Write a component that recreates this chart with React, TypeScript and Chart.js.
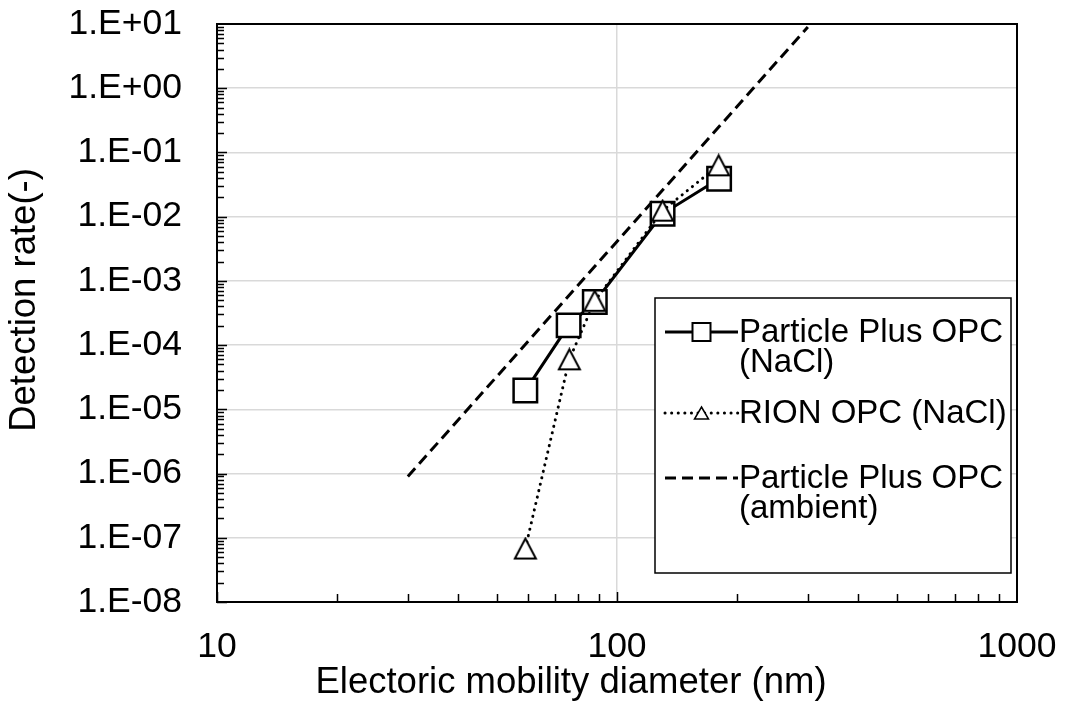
import React, { useEffect, useRef } from 'react';
import { Chart, registerables } from 'chart.js';

Chart.register(...registerables);

// ---- data ----
const ppDiameter = [59, 75.7, 88, 130, 180];
const ppRate = [1.96e-5, 2.03e-4, 4.7e-4, 1.11e-2, 3.9e-2];
const rionDiameter = [59, 76, 88, 130, 179.5];
const rionRate = [6.8e-8, 6.0e-5, 4.9e-4, 1.24e-2, 6.3e-2];
const ambientDiameter = [30, 300];
const ambientRate = [9e-7, 9];

const seriesNames = ['Particle Plus OPC (NaCl)', 'RION OPC (NaCl)', 'Particle Plus OPC (ambient)'];
const legendLines = [['Particle Plus OPC', '(NaCl)'], ['RION OPC (NaCl)'], ['Particle Plus OPC', '(ambient)']];

const xTickValues = [10, 100, 1000];
const xTickLabels = ['10', '100', '1000'];
const yTickValues = [1e-8, 1e-7, 1e-6, 1e-5, 1e-4, 1e-3, 1e-2, 1e-1, 1e0, 1e1];
const yTickLabels = ['1.E-08', '1.E-07', '1.E-06', '1.E-05', '1.E-04', '1.E-03', '1.E-02', '1.E-01', '1.E+00', '1.E+01'];

const xTitle = 'Electoric mobility diameter (nm)';
const yTitle = 'Detection rate(-)';

const FONT = "'Liberation Sans', Arial, Helvetica, sans-serif";

function toPoints(xs: number[], ys: number[]) {
  return xs.map((x, i) => ({ x, y: ys[i] }));
}

function makeTriangle(w: number, h: number, lw: number) {
  const c = document.createElement('canvas');
  const pad = Math.ceil(lw);
  c.width = w + pad * 2;
  c.height = h + pad * 2;
  const g = c.getContext('2d')!;
  g.fillStyle = '#fff';
  g.strokeStyle = '#000';
  g.lineWidth = lw;
  g.lineJoin = 'miter';
  g.beginPath();
  g.moveTo(pad + w / 2, pad);
  g.lineTo(pad + w, pad + h);
  g.lineTo(pad, pad + h);
  g.closePath();
  g.fill();
  g.stroke();
  return c;
}

const decorPlugin = {
  id: 'decor',
  afterDraw(chart: any) {
    const { ctx, chartArea: a, scales } = chart;
    const xs = scales.x;
    const ys = scales.y;
    ctx.save();
    ctx.strokeStyle = '#000';
    // inner tick marks (major + minor), pointing into the plot
    ctx.lineWidth = 1.5;
    ctx.beginPath();
    for (let e = -8; e <= 0; e++) {
      for (let m = 1; m <= 9; m++) {
        const py = Math.round(ys.getPixelForValue(m * Math.pow(10, e))) + 0.5;
        const len = m === 1 ? 10 : 7;
        ctx.moveTo(a.left, py);
        ctx.lineTo(a.left + len, py);
      }
    }
    const pyTop = ys.getPixelForValue(10);
    ctx.moveTo(a.left, pyTop);
    ctx.lineTo(a.left + 10, pyTop);
    for (let e = 1; e <= 2; e++) {
      for (let m = 1; m <= 9; m++) {
        const px = Math.round(xs.getPixelForValue(m * Math.pow(10, e))) + 0.5;
        const len = m === 1 ? 10 : 8;
        ctx.moveTo(px, a.bottom);
        ctx.lineTo(px, a.bottom - len);
      }
    }
    ctx.stroke();
    // plot frame
    ctx.lineWidth = 2;
    ctx.strokeRect(a.left, a.top, a.right - a.left, a.bottom - a.top);

    // axis titles
    ctx.fillStyle = '#000';
    ctx.font = `36.5px ${FONT}`;
    ctx.textAlign = 'center';
    ctx.textBaseline = 'middle';
    ctx.fillText(xTitle, (a.left + a.right) / 2 - 46, 683);
    ctx.save();
    ctx.translate(25, 300);
    ctx.rotate(-Math.PI / 2);
    ctx.fillText(yTitle, 0, 0);
    ctx.restore();

    // legend box
    const bw = 356;
    const bh = 275;
    const bx = a.right - 6 - bw;
    const by = a.bottom - 29 - bh;
    ctx.fillStyle = '#fff';
    ctx.fillRect(bx, by, bw, bh);
    ctx.lineWidth = 1.5;
    ctx.strokeRect(bx, by, bw, bh);

    const rowY = [by + 34, by + 115, by + 180];
    const lineX0 = bx + 10;
    const lineX1 = bx + 83;
    const textX = bx + 84;
    chart.data.datasets.forEach((ds: any, i: number) => {
      const yy = rowY[i];
      ctx.save();
      ctx.strokeStyle = ds.borderColor;
      ctx.lineWidth = ds.borderWidth;
      ctx.setLineDash(ds.borderDash || []);
      ctx.lineCap = ds.borderCapStyle || 'butt';
      ctx.beginPath();
      ctx.moveTo(lineX0, yy);
      ctx.lineTo(lineX1, yy);
      ctx.stroke();
      ctx.restore();
      const cx = (lineX0 + lineX1) / 2;
      if (ds.pointStyle === 'rect' && ds.pointRadius > 0) {
        ctx.save();
        ctx.fillStyle = '#fff';
        ctx.strokeStyle = '#000';
        ctx.lineWidth = 2;
        ctx.fillRect(cx - 9, yy - 9, 18, 18);
        ctx.strokeRect(cx - 9, yy - 9, 18, 18);
        ctx.restore();
      } else if (ds.pointStyle && typeof ds.pointStyle !== 'string' && ds.pointRadius > 0) {
        ctx.save();
        ctx.fillStyle = '#fff';
        ctx.strokeStyle = '#000';
        ctx.lineWidth = 1.5;
        ctx.beginPath();
        ctx.moveTo(cx, yy - 6);
        ctx.lineTo(cx + 7, yy + 6);
        ctx.lineTo(cx - 7, yy + 6);
        ctx.closePath();
        ctx.fill();
        ctx.stroke();
        ctx.restore();
      }
      ctx.fillStyle = '#000';
      ctx.font = `33px ${FONT}`;
      ctx.textAlign = 'left';
      ctx.textBaseline = 'middle';
      legendLines[i].forEach((t, k) => {
        ctx.fillText(t, textX, yy + k * 30 + 1);
      });
    });
    ctx.restore();
  },
};

export default function App() {
  const ref = useRef<HTMLCanvasElement | null>(null);
  useEffect(() => {
    if (!ref.current) return;
    const tri = makeTriangle(21, 20, 2);
    const chart = new Chart(ref.current, {
      type: 'line',
      data: {
        datasets: [
          {
            label: seriesNames[0],
            data: toPoints(ppDiameter, ppRate),
            borderColor: '#000',
            borderWidth: 3,
            pointStyle: 'rect',
            pointRadius: 16.6,
            pointBorderWidth: 2.5,
            pointBackgroundColor: '#fff',
            pointBorderColor: '#000',
            order: 1,
          },
          {
            label: seriesNames[1],
            data: toPoints(rionDiameter, rionRate),
            borderColor: '#000',
            borderWidth: 3,
            borderDash: [0.1, 6.5],
            borderCapStyle: 'round',
            pointStyle: tri,
            pointRadius: 11,
            pointBackgroundColor: '#fff',
            pointBorderColor: '#000',
            order: 0,
          },
          {
            label: seriesNames[2],
            data: toPoints(ambientDiameter, ambientRate),
            borderColor: '#000',
            borderWidth: 3,
            borderDash: [11, 6],
            pointRadius: 0,
            order: 2,
          },
        ],
      } as any,
      options: {
        animation: false,
        responsive: false,
        devicePixelRatio: 1,
        layout: { padding: { top: 24, right: 49, bottom: 0, left: 0 } },
        plugins: { legend: { display: false }, tooltip: { enabled: false } },
        scales: {
          x: {
            type: 'logarithmic',
            min: 10,
            max: 1000,
            afterBuildTicks: (s: any) => {
              s.ticks = xTickValues.map((v) => ({ value: v }));
            },
            afterFit: (s: any) => {
              s.height = 106;
            },
            ticks: {
              callback: (_v: any, i: number) => xTickLabels[i],
              color: '#000',
              font: { family: FONT, size: 35.5 },
              padding: 0,
              maxRotation: 0,
              autoSkip: false,
            },
            grid: { color: '#d9d9d9', lineWidth: 1.5, drawTicks: true, tickLength: 24, tickColor: 'rgba(0,0,0,0)' },
            border: { display: true, color: '#000', width: 2 },
            title: { display: false },
          },
          y: {
            type: 'logarithmic',
            min: 1e-8,
            max: 10,
            afterBuildTicks: (s: any) => {
              s.ticks = yTickValues.map((v) => ({ value: v }));
            },
            afterFit: (s: any) => {
              s.width = 217;
            },
            ticks: {
              callback: (_v: any, i: number) => yTickLabels[i],
              color: '#000',
              font: { family: FONT, size: 35.5 },
              padding: 0,
              autoSkip: false,
            },
            grid: { color: '#d9d9d9', lineWidth: 1.5, drawTicks: true, tickLength: 35, tickColor: 'rgba(0,0,0,0)' },
            border: { display: true, color: '#000', width: 2 },
            title: { display: false },
          },
        },
      } as any,
      plugins: [decorPlugin],
    });
    return () => chart.destroy();
  }, []);
  return (
    <canvas
      ref={ref}
      width={1066}
      height={708}
      style={{ position: 'absolute', left: 0, top: 0, width: 1066, height: 708 }}
    />
  );
}
